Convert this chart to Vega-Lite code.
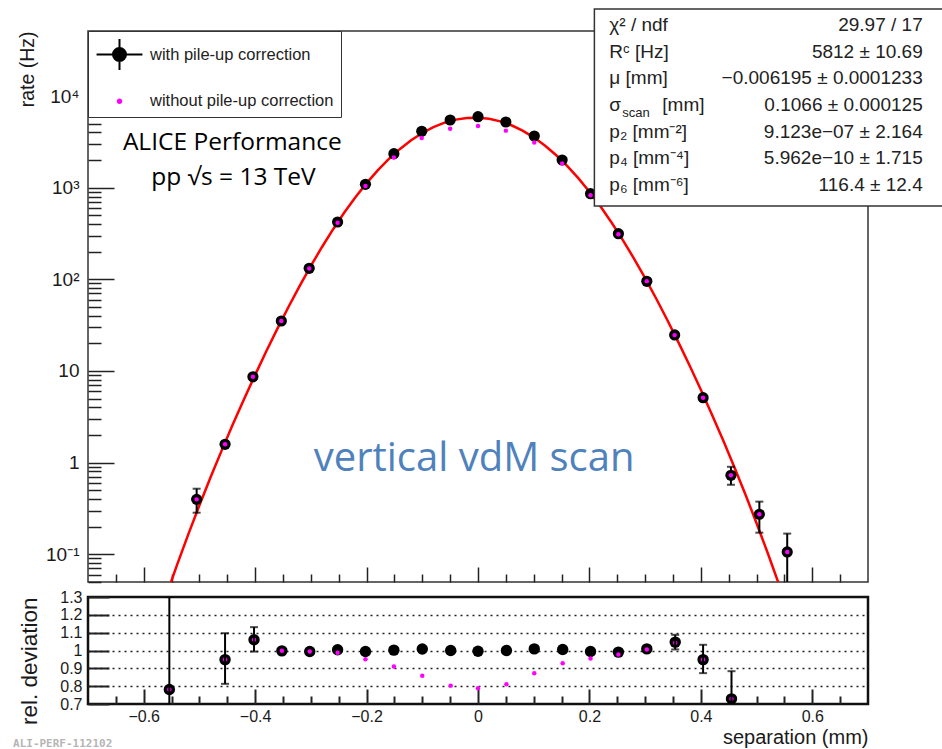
{
  "$schema": "https://vega.github.io/schema/vega-lite/v6.json",
  "background": "white",
  "autosize": {"type": "pad"},
  "padding": {"left": 11, "top": 7, "right": 0, "bottom": 0},
  "spacing": 15,
  "bounds": "flush",
  "config": {
    "axis": {"domain": false, "grid": false, "labelFont": "Liberation Sans", "titleFont": "Liberation Sans", "titleFontWeight": "normal", "labelColor": "#1a1a1a", "titleColor": "#1a1a1a", "tickColor": "#222", "tickWidth": 1.5}
  },
  "datasets": {
    "rate": [
      {"sep": -0.505, "rate": 0.397, "raw": 0.397},
      {"sep": -0.454, "rate": 1.584, "raw": 1.584},
      {"sep": -0.404, "rate": 8.65, "raw": 8.65},
      {"sep": -0.353, "rate": 35.1, "raw": 35.1},
      {"sep": -0.303, "rate": 131.8, "raw": 131.0},
      {"sep": -0.252, "rate": 422, "raw": 414},
      {"sep": -0.202, "rate": 1088, "raw": 1040},
      {"sep": -0.151, "rate": 2347, "raw": 2128},
      {"sep": -0.101, "rate": 4120, "raw": 3480},
      {"sep": -0.050, "rate": 5472, "raw": 4390},
      {"sep": 0.000, "rate": 5945, "raw": 4705},
      {"sep": 0.050, "rate": 5203, "raw": 4190},
      {"sep": 0.101, "rate": 3660, "raw": 3110},
      {"sep": 0.151, "rate": 2003, "raw": 1840},
      {"sep": 0.202, "rate": 859, "raw": 828},
      {"sep": 0.252, "rate": 314.5, "raw": 310},
      {"sep": 0.303, "rate": 95.1, "raw": 95.5},
      {"sep": 0.353, "rate": 24.7, "raw": 24.6},
      {"sep": 0.404, "rate": 5.11, "raw": 5.11},
      {"sep": 0.454, "rate": 0.727, "raw": 0.727},
      {"sep": 0.505, "rate": 0.273, "raw": 0.273},
      {"sep": 0.555, "rate": 0.106, "raw": 0.106}
    ],
    "err_top": [
      {"sep": -0.505, "lo": 0.284, "hi": 0.519},
      {"sep": 0.454, "lo": 0.573, "hi": 0.900},
      {"sep": 0.505, "lo": 0.172, "hi": 0.375},
      {"sep": 0.555, "lo": 0.03, "hi": 0.168}
    ],
    "ratio": [
      {"sep": -0.554, "rel": 0.781, "raw": 0.781},
      {"sep": -0.454, "rel": 0.949, "raw": 0.949},
      {"sep": -0.402, "rel": 1.060, "raw": 1.060},
      {"sep": -0.352, "rel": 0.998, "raw": 0.998},
      {"sep": -0.302, "rel": 0.994, "raw": 0.994},
      {"sep": -0.252, "rel": 1.004, "raw": 0.987},
      {"sep": -0.202, "rel": 0.994, "raw": 0.951},
      {"sep": -0.151, "rel": 1.002, "raw": 0.910},
      {"sep": -0.100, "rel": 1.008, "raw": 0.858},
      {"sep": -0.049, "rel": 1.000, "raw": 0.803},
      {"sep": 0.000, "rel": 0.996, "raw": 0.788},
      {"sep": 0.051, "rel": 1.000, "raw": 0.811},
      {"sep": 0.101, "rel": 1.009, "raw": 0.873},
      {"sep": 0.152, "rel": 1.006, "raw": 0.929},
      {"sep": 0.202, "rel": 0.994, "raw": 0.955},
      {"sep": 0.252, "rel": 0.991, "raw": 0.978},
      {"sep": 0.303, "rel": 1.009, "raw": 1.006},
      {"sep": 0.354, "rel": 1.047, "raw": 1.043},
      {"sep": 0.404, "rel": 0.949, "raw": 0.949},
      {"sep": 0.455, "rel": 0.729, "raw": 0.729}
    ],
    "err_bot": [
      {"sep": -0.554, "lo": 0.26, "hi": 1.3},
      {"sep": -0.454, "lo": 0.813, "hi": 1.097},
      {"sep": -0.402, "lo": 0.994, "hi": 1.131},
      {"sep": 0.354, "lo": 1.006, "hi": 1.088},
      {"sep": 0.404, "lo": 0.873, "hi": 1.032},
      {"sep": 0.455, "lo": 0.57, "hi": 0.884}
    ],
    "fit": [
      {"sep": -0.56, "fit": 0.0349}, {"sep": -0.54, "fit": 0.0770}, {"sep": -0.52, "fit": 0.1647},
      {"sep": -0.50, "fit": 0.3421}, {"sep": -0.48, "fit": 0.6908}, {"sep": -0.46, "fit": 1.360},
      {"sep": -0.44, "fit": 2.616}, {"sep": -0.42, "fit": 4.921}, {"sep": -0.40, "fit": 9.066},
      {"sep": -0.38, "fit": 16.37}, {"sep": -0.36, "fit": 28.95}, {"sep": -0.34, "fit": 50.11},
      {"sep": -0.32, "fit": 84.79}, {"sep": -0.30, "fit": 140.0}, {"sep": -0.28, "fit": 225.2},
      {"sep": -0.26, "fit": 352.1}, {"sep": -0.24, "fit": 534.5}, {"sep": -0.22, "fit": 786.3},
      {"sep": -0.20, "fit": 1120}, {"sep": -0.18, "fit": 1543}, {"sep": -0.16, "fit": 2056},
      {"sep": -0.14, "fit": 2645}, {"sep": -0.12, "fit": 3288}, {"sep": -0.10, "fit": 3947},
      {"sep": -0.08, "fit": 4573}, {"sep": -0.06, "fit": 5117}, {"sep": -0.04, "fit": 5527},
      {"sep": -0.02, "fit": 5764}, {"sep": 0.00, "fit": 5802}, {"sep": 0.02, "fit": 5639},
      {"sep": 0.04, "fit": 5291}, {"sep": 0.06, "fit": 4793}, {"sep": 0.08, "fit": 4192},
      {"sep": 0.10, "fit": 3539}, {"sep": 0.12, "fit": 2886}, {"sep": 0.14, "fit": 2272},
      {"sep": 0.16, "fit": 1728}, {"sep": 0.18, "fit": 1270}, {"sep": 0.20, "fit": 903.1},
      {"sep": 0.22, "fit": 621.4}, {"sep": 0.24, "fit": 414.2}, {"sep": 0.26, "fit": 267.8},
      {"sep": 0.28, "fit": 168.3}, {"sep": 0.30, "fit": 102.9}, {"sep": 0.32, "fit": 61.38},
      {"sep": 0.34, "fit": 35.76}, {"sep": 0.36, "fit": 20.38}, {"sep": 0.38, "fit": 11.38},
      {"sep": 0.40, "fit": 6.224}, {"sep": 0.42, "fit": 3.335}, {"sep": 0.44, "fit": 1.749},
      {"sep": 0.46, "fit": 0.8966}, {"sep": 0.48, "fit": 0.4483}, {"sep": 0.50, "fit": 0.2183},
      {"sep": 0.52, "fit": 0.1032}, {"sep": 0.54, "fit": 0.0473}, {"sep": 0.56, "fit": 0.0210}
    ],
    "series": [
      {"series": "with pile-up correction"},
      {"series": "without pile-up correction"}
    ],
    "stats": [
      {"row": 1, "param": "χ² / ndf", "value": "29.97 / 17"},
      {"row": 2, "param": "Rᶜ [Hz]", "value": "5812 ± 10.69"},
      {"row": 3, "param": "μ [mm]", "value": "−0.006195 ± 0.0001233"},
      {"row": 4, "param": "σ", "sub": "scan", "unit": "[mm]", "value": "0.1066 ± 0.000125"},
      {"row": 5, "param": "p₂ [mm⁻²]", "value": "9.123e−07 ± 2.164"},
      {"row": 6, "param": "p₄ [mm⁻⁴]", "value": "5.962e−10 ± 1.715"},
      {"row": 7, "param": "p₆ [mm⁻⁶]", "value": "116.4 ±  12.4"}
    ]
  },
  "vconcat": [
    {
      "width": 780,
      "height": 551,
      "view": {"stroke": "#333", "strokeWidth": 1.5},
      "resolve": {"scale": {"y": "independent"}, "axis": {"x": "independent", "y": "independent"}},
      "layer": [
        {
          "resolve": {"axis": {"x": "independent", "y": "independent"}},
          "layer": [
            {
              "data": {"name": "fit"},
              "mark": {"type": "line", "color": "#ff0000", "strokeWidth": 2.5, "clip": true},
              "encoding": {
                "x": {"field": "sep", "type": "quantitative", "scale": {"domain": [-0.7, 0.7], "nice": false, "zero": false},
                      "axis": {"orient": "bottom", "values": [-0.6, -0.4, -0.2, 0, 0.2, 0.4, 0.6], "labels": false, "tickSize": -15, "title": null}},
                "y": {"field": "fit", "type": "quantitative", "scale": {"type": "log", "domain": [0.0498, 51200], "nice": false},
                      "axis": {"orient": "left", "values": [0.1, 1, 10, 100, 1000, 10000], "tickSize": -26, "labelPadding": 35, "labelFontSize": 19,
                               "labelExpr": "datum.value < 0.5 ? '10⁻¹' : datum.value < 5 ? '1' : datum.value < 50 ? '10' : datum.value < 500 ? '10²' : datum.value < 5000 ? '10³' : '10⁴'",
                               "title": "rate (Hz)", "titleAnchor": "end", "titleFontSize": 19.5, "titlePadding": 8}}
              }
            },
            {
              "data": {"name": "err_top"},
              "mark": {"type": "rule", "color": "black", "strokeWidth": 2, "clip": true},
              "encoding": {
                "x": {"field": "sep", "type": "quantitative", "axis": null},
                "y": {"field": "lo", "type": "quantitative", "axis": null},
                "y2": {"field": "hi"}
              }
            },
            {
              "data": {"name": "err_top"},
              "mark": {"type": "tick", "orient": "horizontal", "color": "black", "size": 8, "thickness": 2, "clip": true},
              "encoding": {
                "x": {"field": "sep", "type": "quantitative", "axis": null},
                "y": {"field": "lo", "type": "quantitative", "axis": null}
              }
            },
            {
              "data": {"name": "err_top"},
              "mark": {"type": "tick", "orient": "horizontal", "color": "black", "size": 8, "thickness": 2, "clip": true},
              "encoding": {
                "x": {"field": "sep", "type": "quantitative", "axis": null},
                "y": {"field": "hi", "type": "quantitative", "axis": null}
              }
            },
            {
              "data": {"name": "rate"},
              "mark": {"type": "point", "filled": true, "color": "black", "size": 125, "opacity": 1, "clip": true},
              "encoding": {
                "x": {"field": "sep", "type": "quantitative",
                      "axis": {"orient": "bottom", "values": [-0.65, -0.55, -0.5, -0.45, -0.35, -0.3, -0.25, -0.15, -0.1, -0.05, 0.05, 0.1, 0.15, 0.25, 0.3, 0.35, 0.45, 0.5, 0.55, 0.65], "labels": false, "tickSize": -8, "title": null}},
                "y": {"field": "rate", "type": "quantitative",
                      "axis": {"orient": "left", "values": [0.05, 0.06, 0.07, 0.08, 0.09, 0.2, 0.3, 0.4, 0.5, 0.6, 0.7, 0.8, 0.9, 2, 3, 4, 5, 6, 7, 8, 9, 20, 30, 40, 50, 60, 70, 80, 90, 200, 300, 400, 500, 600, 700, 800, 900, 2000, 3000, 4000, 5000, 6000, 7000, 8000, 9000, 20000, 30000, 40000, 50000], "labels": false, "tickSize": -13, "title": null}}
              }
            },
            {
              "data": {"name": "rate"},
              "mark": {"type": "point", "filled": true, "color": "#ff00ff", "size": 20, "opacity": 1, "clip": true},
              "encoding": {
                "x": {"field": "sep", "type": "quantitative", "axis": null},
                "y": {"field": "raw", "type": "quantitative", "axis": null}
              }
            },
            {
              "data": {"values": [{"t": "ALICE  Performance"}]},
              "mark": {"type": "text", "font": "Open Sans", "fontSize": 24.5, "color": "black", "align": "center", "baseline": "middle"},
              "encoding": {
                "x": {"datum": -0.441, "type": "quantitative", "axis": null},
                "y": {"datum": 3070, "type": "quantitative", "axis": null},
                "text": {"field": "t"}
              }
            },
            {
              "data": {"values": [{"t": "pp  √s = 13  TeV"}]},
              "mark": {"type": "text", "font": "Open Sans", "fontSize": 24.5, "color": "black", "align": "center", "baseline": "middle"},
              "encoding": {
                "x": {"datum": -0.439, "type": "quantitative", "axis": null},
                "y": {"datum": 1274, "type": "quantitative", "axis": null},
                "text": {"field": "t"}
              }
            },
            {
              "data": {"values": [{"t": "vertical vdM scan"}]},
              "mark": {"type": "text", "font": "Open Sans", "fontSize": 40, "color": "#4f81bd", "align": "center", "baseline": "middle"},
              "encoding": {
                "x": {"datum": -0.007, "type": "quantitative", "axis": null},
                "y": {"datum": 1.095, "type": "quantitative", "axis": null},
                "text": {"field": "t"}
              }
            },
            {
              "data": {"name": "series"},
              "mark": {"type": "point", "filled": true, "opacity": 0, "strokeWidth": 2},
              "encoding": {
                "color": {"field": "series", "type": "nominal",
                          "scale": {"domain": ["with pile-up correction", "without pile-up correction"], "range": ["black", "#ff00ff"]},
                          "legend": {"title": null, "orient": "none", "legendX": 0, "legendY": 0, "strokeColor": "#333", "fillColor": "white", "padding": 7, "gridAlign": "all", "rowPadding": 19, "symbolOffset": 8, "labelOffset": 14, "labelFont": "Liberation Sans", "labelFontSize": 16.5, "labelColor": "#222", "labelLimit": 400, "symbolStrokeWidth": 2, "symbolOpacity": 1}},
                "stroke": {"field": "series", "type": "nominal",
                          "scale": {"domain": ["with pile-up correction", "without pile-up correction"], "range": ["black", "#ff00ff"]},
                          "legend": {"title": null, "orient": "none", "legendX": 0, "legendY": 0, "strokeColor": "#333", "fillColor": "white", "padding": 7, "gridAlign": "all", "rowPadding": 19, "symbolOffset": 8, "labelOffset": 14, "labelFont": "Liberation Sans", "labelFontSize": 16.5, "labelColor": "#222", "labelLimit": 400, "symbolStrokeWidth": 2, "symbolOpacity": 1}},
                "shape": {"field": "series", "type": "nominal",
                          "scale": {"domain": ["with pile-up correction", "without pile-up correction"], "range": ["M-1.48,0H1.48M0,-1V1M-0.42,0A0.42,0.42,0,1,0,0.42,0A0.42,0.42,0,1,0,-0.42,0Z", "circle"]},
                          "legend": {"title": null, "orient": "none", "legendX": 0, "legendY": 0, "strokeColor": "#333", "fillColor": "white", "padding": 7, "gridAlign": "all", "rowPadding": 19, "symbolOffset": 8, "labelOffset": 14, "labelFont": "Liberation Sans", "labelFontSize": 16.5, "labelColor": "#222", "labelLimit": 400, "symbolStrokeWidth": 2, "symbolOpacity": 1}},
                "size": {"field": "series", "type": "nominal",
                          "scale": {"domain": ["with pile-up correction", "without pile-up correction"], "range": [961, 12]},
                          "legend": {"title": null, "orient": "none", "legendX": 0, "legendY": 0, "strokeColor": "#333", "fillColor": "white", "padding": 7, "gridAlign": "all", "rowPadding": 19, "symbolOffset": 8, "labelOffset": 14, "labelFont": "Liberation Sans", "labelFontSize": 16.5, "labelColor": "#222", "labelLimit": 400, "symbolStrokeWidth": 2, "symbolOpacity": 1}}
              }
            }
          ]
        },
        {
          "layer": [
            {
              "data": {"values": [{"box": "stats"}]},
              "mark": {"type": "rect", "fill": "white", "stroke": "#333", "strokeWidth": 1.5, "clip": false},
              "encoding": {
                "x": {"datum": 0.2089, "type": "quantitative", "axis": null},
                "x2": {"datum": 0.87},
                "y": {"datum": 0.4, "type": "quantitative", "scale": {"domain": [1.225, 21.88], "reverse": true, "nice": false, "zero": false}, "axis": null},
                "y2": {"datum": 7.787}
              }
            },
            {
              "data": {"name": "stats"},
              "mark": {"type": "text", "align": "left", "baseline": "middle", "font": "Liberation Sans", "fontSize": 19, "color": "#222"},
              "encoding": {
                "x": {"datum": 0.2357, "type": "quantitative", "axis": null},
                "y": {"field": "row", "type": "quantitative", "axis": null},
                "text": {"field": "param"}
              }
            },
            {
              "data": {"name": "stats"},
              "transform": [{"filter": "isValid(datum.sub)"}],
              "mark": {"type": "text", "align": "left", "baseline": "middle", "font": "Liberation Sans", "fontSize": 13, "color": "#222", "dx": 13, "dy": 8},
              "encoding": {
                "x": {"datum": 0.2357, "type": "quantitative", "axis": null},
                "y": {"field": "row", "type": "quantitative", "axis": null},
                "text": {"field": "sub"}
              }
            },
            {
              "data": {"name": "stats"},
              "transform": [{"filter": "isValid(datum.unit)"}],
              "mark": {"type": "text", "align": "left", "baseline": "middle", "font": "Liberation Sans", "fontSize": 19, "color": "#222", "dx": 53},
              "encoding": {
                "x": {"datum": 0.2357, "type": "quantitative", "axis": null},
                "y": {"field": "row", "type": "quantitative", "axis": null},
                "text": {"field": "unit"}
              }
            },
            {
              "data": {"name": "stats"},
              "mark": {"type": "text", "align": "right", "baseline": "middle", "font": "Liberation Sans", "fontSize": 19, "color": "#222"},
              "encoding": {
                "x": {"datum": 0.7982, "type": "quantitative", "axis": null},
                "y": {"field": "row", "type": "quantitative", "axis": null},
                "text": {"field": "value"}
              }
            }
          ]
        }
      ]
    },
    {
      "width": 780,
      "height": 107,
      "view": {"stroke": "#111", "strokeWidth": 2.5},
      "resolve": {"axis": {"x": "independent", "y": "independent"}},
      "layer": [
        {
          "data": {"name": "ratio"},
          "mark": {"type": "point", "filled": true, "color": "black", "size": 130, "opacity": 1, "clip": true},
          "encoding": {
            "x": {"field": "sep", "type": "quantitative", "scale": {"domain": [-0.7, 0.7], "nice": false, "zero": false},
                  "axis": {"orient": "bottom", "values": [-0.6, -0.4, -0.2, 0, 0.2, 0.4, 0.6], "format": "~g", "tickSize": -15, "tickWidth": 2, "labelPadding": 19, "labelFontSize": 16,
                           "title": "separation (mm)", "titleAnchor": "end", "titleFontSize": 20, "titlePadding": 3}},
            "y": {"field": "rel", "type": "quantitative", "scale": {"domain": [0.7, 1.3], "nice": false, "zero": false},
                  "axis": {"orient": "left", "values": [0.7, 0.8, 0.9, 1, 1.1, 1.2, 1.3], "format": "~g", "tickSize": -21, "tickWidth": 2, "labelPadding": 27, "labelFontSize": 16, "labelOverlap": false,
                           "title": "rel. deviation", "titleAnchor": "end", "titleFontSize": 22.5, "titlePadding": 18}}
          }
        },
        {
          "data": {"name": "ratio"},
          "mark": {"type": "point", "filled": true, "color": "#ff00ff", "size": 20, "opacity": 1, "clip": true},
          "encoding": {
            "x": {"field": "sep", "type": "quantitative",
                  "axis": {"orient": "bottom", "values": [-0.65, -0.55, -0.5, -0.45, -0.35, -0.3, -0.25, -0.15, -0.1, -0.05, 0.05, 0.1, 0.15, 0.25, 0.3, 0.35, 0.45, 0.5, 0.55, 0.65], "labels": false, "tickSize": -8, "tickWidth": 2, "title": null}},
            "y": {"field": "raw", "type": "quantitative",
                  "axis": {"orient": "left", "values": [0.8, 0.9, 1, 1.1, 1.2], "labels": false, "ticks": false, "title": null,
                           "grid": true, "gridColor": "#222", "gridDash": [2, 4], "gridWidth": 1.6}}
          }
        },
        {
          "data": {"name": "err_bot"},
          "mark": {"type": "rule", "color": "black", "strokeWidth": 2, "clip": true},
          "encoding": {
            "x": {"field": "sep", "type": "quantitative", "axis": null},
            "y": {"field": "lo", "type": "quantitative", "axis": null},
            "y2": {"field": "hi"}
          }
        },
        {
          "data": {"name": "err_bot"},
          "mark": {"type": "tick", "orient": "horizontal", "color": "black", "size": 8, "thickness": 2, "clip": true},
          "encoding": {
            "x": {"field": "sep", "type": "quantitative", "axis": null},
            "y": {"field": "lo", "type": "quantitative", "axis": null}
          }
        },
        {
          "data": {"name": "err_bot"},
          "mark": {"type": "tick", "orient": "horizontal", "color": "black", "size": 8, "thickness": 2, "clip": true},
          "encoding": {
            "x": {"field": "sep", "type": "quantitative", "axis": null},
            "y": {"field": "hi", "type": "quantitative", "axis": null}
          }
        },
        {
          "data": {"values": [{"t": "ALI-PERF-112102"}]},
          "mark": {"type": "text", "align": "left", "baseline": "middle", "font": "DejaVu Sans Mono", "fontWeight": "bold", "fontSize": 11, "color": "#b5b5b5", "clip": false},
          "encoding": {
            "x": {"datum": -0.8346, "type": "quantitative", "axis": null},
            "y": {"datum": 0.4775, "type": "quantitative", "axis": null},
            "text": {"field": "t"}
          }
        }
      ]
    }
  ]
}
